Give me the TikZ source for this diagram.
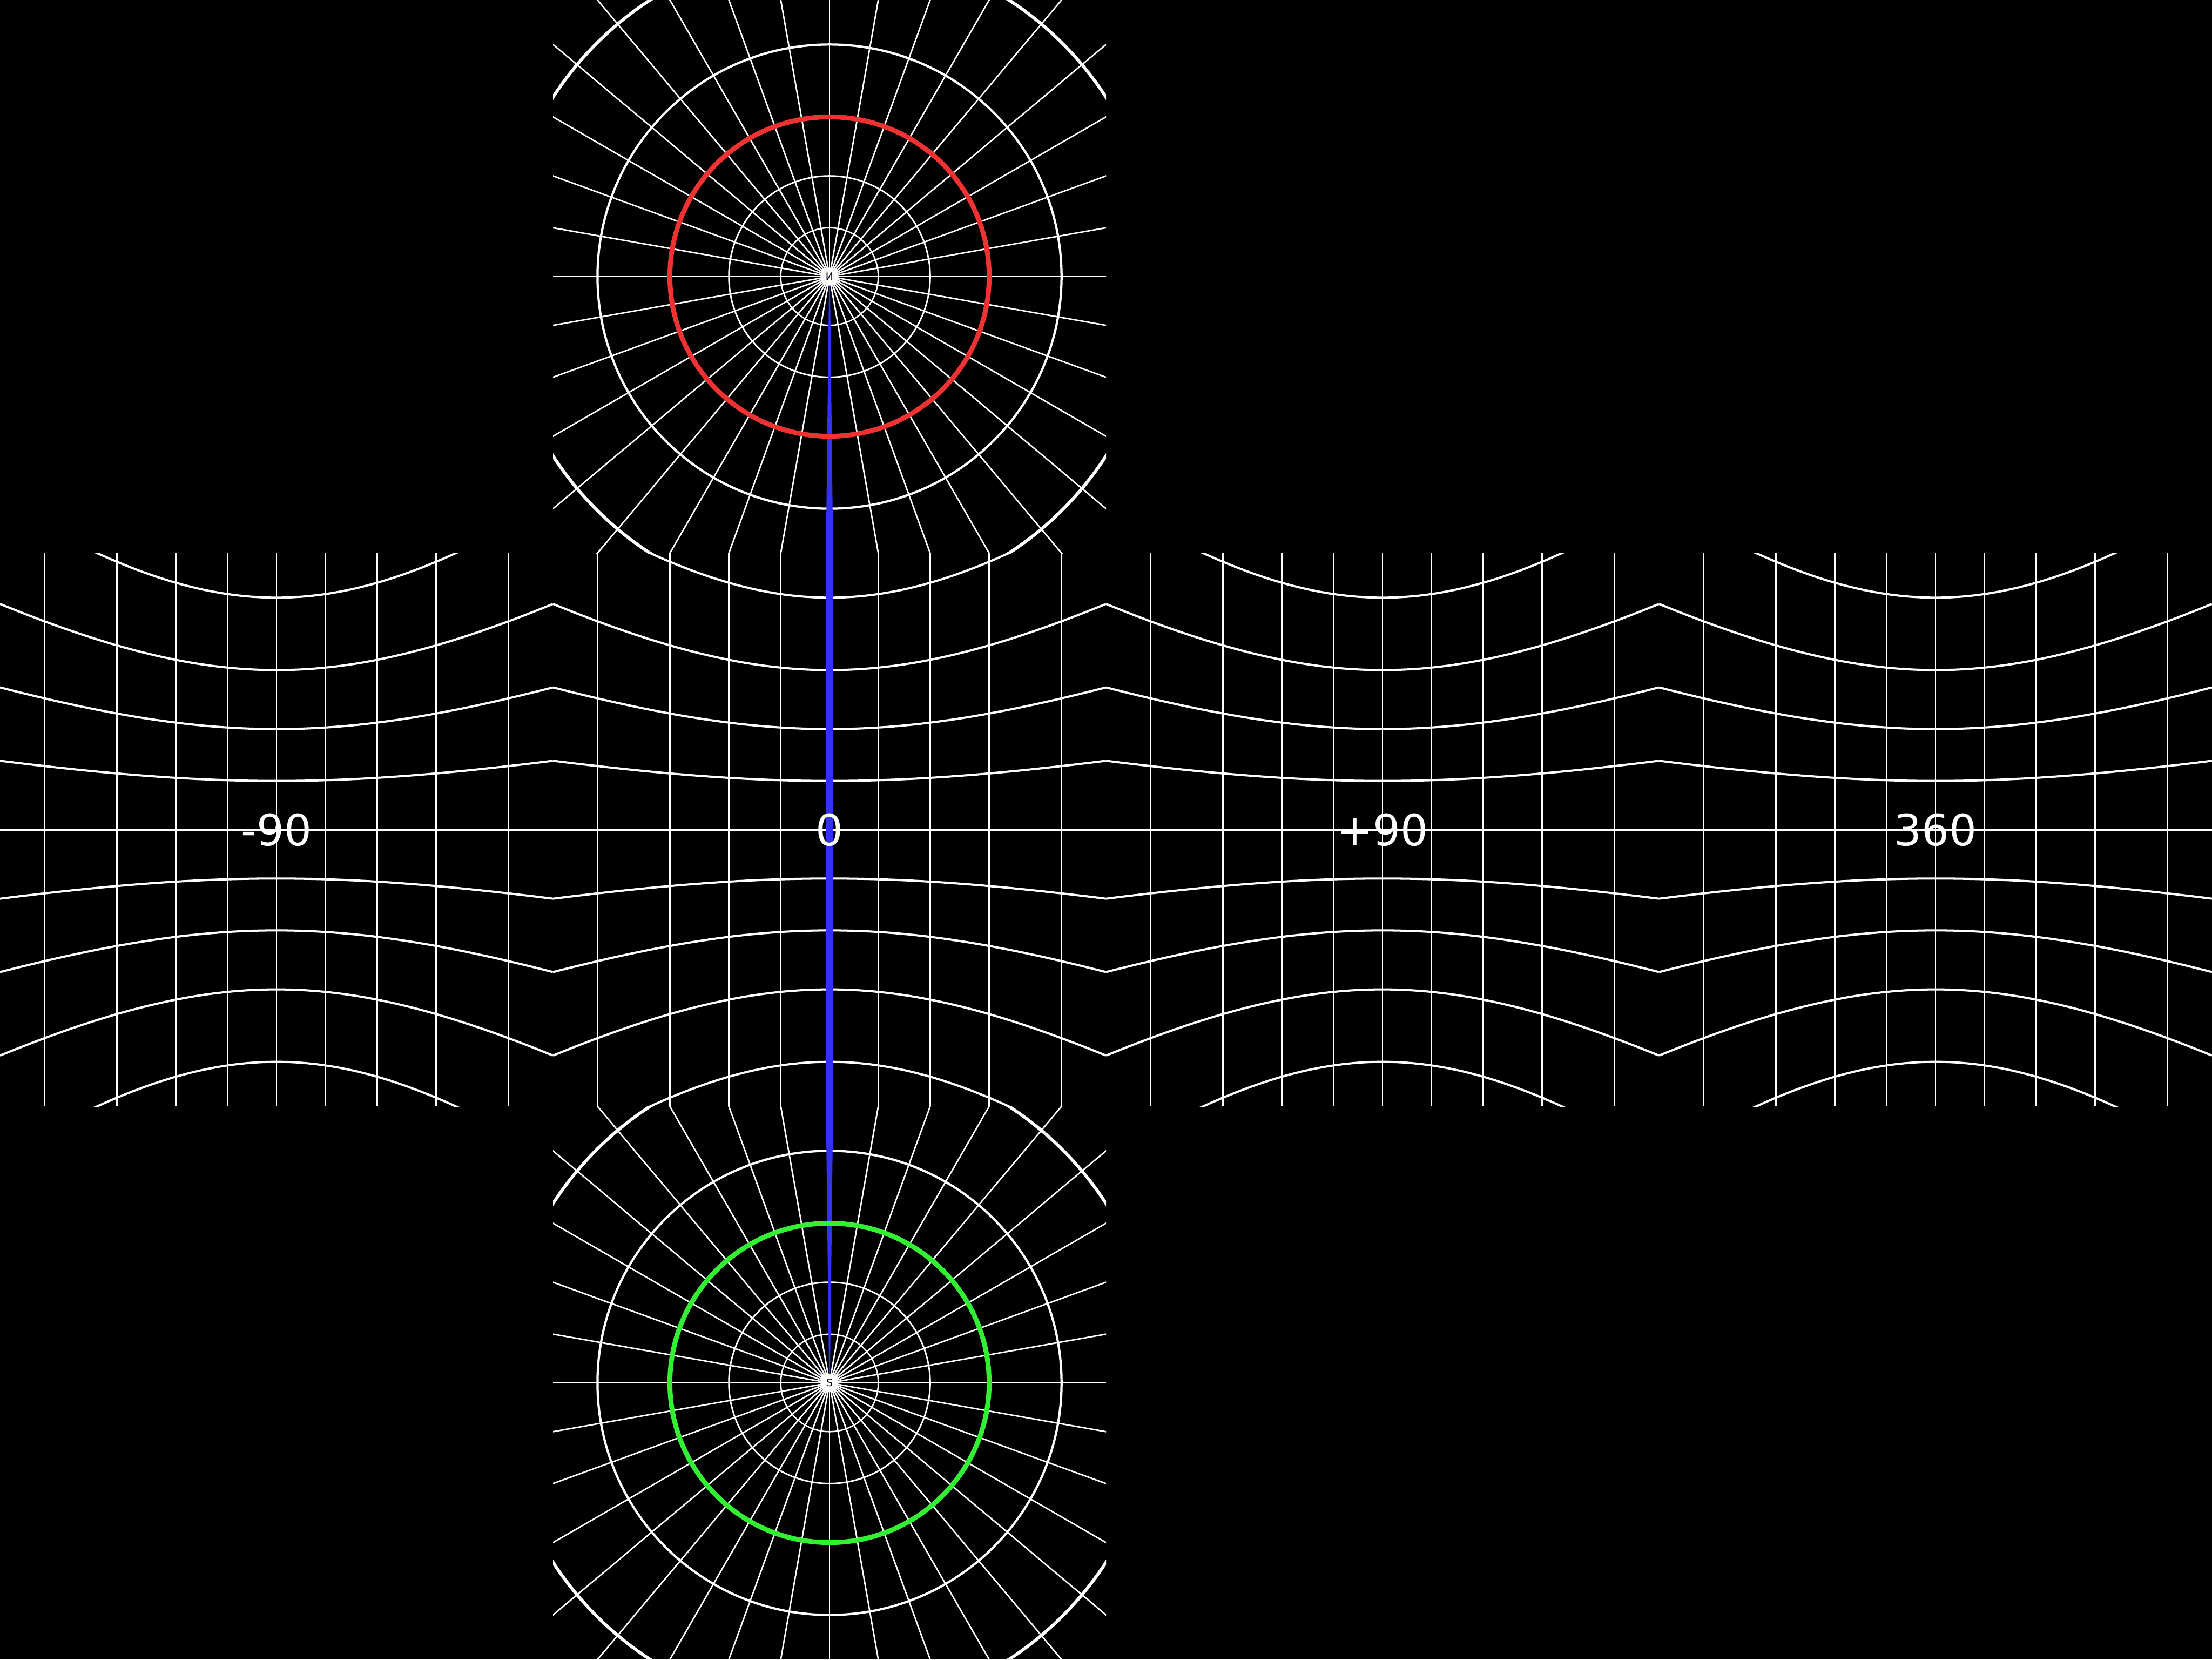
\documentclass[tikz,border=0pt]{standalone}
\usepackage{fontspec}
\newfontfamily\dejavu{DejaVu Sans}
\definecolor{mred}{RGB}{240,50,50}
\definecolor{mgreen}{RGB}{50,240,50}
\definecolor{mblue}{RGB}{50,50,240}
\tikzset{
  merid/.style={white, line width=0.3pt},
  latl/.style={white, line width=0.45pt},
  facelabel/.style={text=white, font=\dejavu\fontsize{8.9}{10}\selectfont, inner sep=0pt},
  poledisc/.style={circle, fill=white, inner sep=0pt, minimum size=0.13cm, text=black, font=\dejavu\fontsize{2.1}{2.5}\selectfont},
}
\begin{document}
\begin{tikzpicture}
\useasboundingbox (0,0) rectangle (16,12);
\fill[black] (0,0) rectangle (16,12);

% middle row: four side faces
\foreach \cx in {2,6,10,14}{
  \begin{scope}
    \clip ({\cx-2},4) rectangle ({\cx+2},8);
    \foreach \d in {-40,-30,...,40}
      \draw[merid] ({\cx+2*tan(\d)},4) -- ({\cx+2*tan(\d)},8);
    \foreach \p in {-40,-30,...,40}
      \draw[latl] plot[domain=-1:1,samples=61,smooth] ({\cx+2*\x},{6+2*tan(\p)*sqrt(1+\x*\x)});
  \end{scope}
}

% pole faces
\foreach \cy in {10,2}{
  \begin{scope}
    \clip (4,{\cy-2}) rectangle (8,{\cy+2});
    \foreach \l in {0,10,...,350}
      \draw[merid] (6,\cy) -- ++({3*sin(\l)},{3*cos(\l)});
    \foreach \p/\w in {80/0.28,70/0.32,50/0.47,40/0.65}
      \draw[white, line width=\w pt] (6,\cy) circle ({2*cot(\p)});
  \end{scope}
}

% prime meridian band
\fill[mblue] (5.997,10) -- (6.003,10) -- (6.026,8) -- (6.026,4) -- (6.003,2) -- (5.997,2) -- (5.974,4) -- (5.974,8) -- cycle;

% latitude +60 and -60
\draw[mred, line width=1pt] (6,10) circle ({2*cot(60)});
\draw[mgreen, line width=1pt] (6,2) circle ({2*cot(60)});

% pole markers
\node[poledisc] (npole) at (6,10) {И};
\node[poledisc] (spole) at (6,2) {S};

% face labels
\node[facelabel] (lleft) at (2,6) {-90};
\node[facelabel] (lfront) at (6,6) {0};
\node[facelabel] (lright) at (10,6) {+90};
\node[facelabel] (lback) at (14,6) {360};
\end{tikzpicture}
\end{document}
